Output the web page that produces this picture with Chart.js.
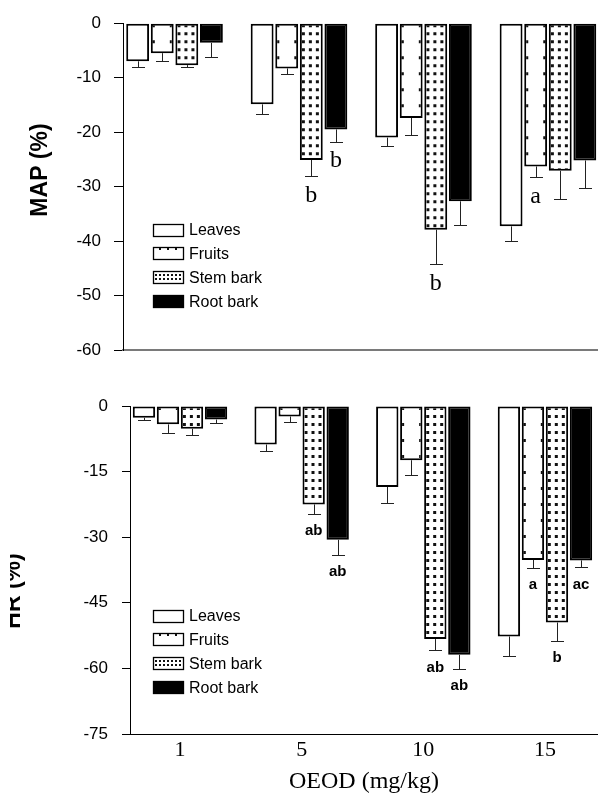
<!DOCTYPE html>
<html>
<head>
<meta charset="utf-8">
<script src="https://cdn.jsdelivr.net/npm/chart.js@4.4.1/dist/chart.umd.min.js"></script>
<style>
  body { margin: 0; background: #fff; }
  #wrap { position: relative; width: 598px; height: 809px; }
  canvas { position: absolute; left: 0; }
</style>
</head>
<body>
<div id="wrap">
  <canvas id="mapChart" width="598" height="375" style="top:0"></canvas>
  <canvas id="hrChart" width="598" height="434" style="top:375px"></canvas>
</div>
<script>
const doses = ['1', '5', '10', '15'];
const seriesNames = ['Leaves', 'Fruits', 'Stem bark', 'Root bark'];

// MAP (%) panel
const mapTicks = [0, -10, -20, -30, -40, -50, -60];
const mapLeaves = [-7.0, -14.9, -21.0, -37.3];
const mapFruits = [-5.5, -8.3, -17.4, -26.3];
const mapStemBark = [-7.7, -25.1, -37.9, -27.1];
const mapRootBark = [-3.6, -19.5, -32.7, -25.2];
const mapLeavesErr = [1.1, 1.7, 1.6, 2.6];
const mapFruitsErr = [1.4, 1.0, 3.2, 2.0];
const mapStemBarkErr = [0.4, 3.0, 6.4, 5.2];
const mapRootBarkErr = [2.6, 2.3, 4.4, 5.0];
const mapLetters = [['', '', '', ''], ['', '', '', 'a'], ['', 'b', 'b', ''], ['', 'b', '', '']];

// HR (%) panel
const hrTicks = [0, -15, -30, -45, -60, -75];
const hrLeaves = [-2.7, -8.8, -18.5, -52.7];
const hrFruits = [-4.2, -2.4, -12.4, -35.2];
const hrStemBark = [-5.2, -22.5, -53.3, -49.5];
const hrRootBark = [-3.1, -30.6, -56.9, -35.3];
const hrLeavesErr = [0.6, 1.4, 3.7, 4.5];
const hrFruitsErr = [2.0, 1.2, 3.3, 1.9];
const hrStemBarkErr = [1.5, 2.1, 2.6, 4.3];
const hrRootBarkErr = [0.8, 3.4, 3.2, 1.6];
const hrLetters = [['', '', '', ''], ['', '', '', 'a'], ['', 'ab', 'ab', 'b'], ['', 'ab', 'ab', 'ac']];

const SANS = '"Liberation Sans", Arial, sans-serif';
const SERIF = '"Liberation Serif", "Times New Roman", serif';
const CAT_PCT = 0.79;
const BAR_PCT = 0.93;
const kinds = ['open', 'sparse', 'dense', 'solid'];

Chart.defaults.font.family = SANS;
Chart.defaults.color = '#000';

function makeTile(w, h, dots, size) {
  const c = document.createElement('canvas');
  c.width = w; c.height = h;
  const g = c.getContext('2d');
  g.fillStyle = '#fff';
  g.fillRect(0, 0, w, h);
  g.fillStyle = '#111';
  dots.forEach(d => g.fillRect(d[0], d[1], size, size));
  return c;
}
const tiles = {
  sparse: makeTile(24, 16, [[1, 1], [19, 1]], 3),
  dense: makeTile(7, 8, [[2, 1]], 3)
};

// pattern anchored on each bar's left edge so dots line up like the print
function patternFor(kind) {
  return (c) => {
    if (c.type !== 'data') return '#fff';
    const xs = c.chart.scales.x, ys = c.chart.scales.y;
    const pitch = xs.getPixelForValue(1) - xs.getPixelForValue(0);
    const chunk = pitch * CAT_PCT / 4;
    const left = xs.getPixelForValue(c.dataIndex) - pitch * CAT_PCT / 2 +
      c.datasetIndex * chunk + chunk * (1 - BAR_PCT) / 2;
    const top = ys.getPixelForValue(0);
    if (!isFinite(left) || !isFinite(top)) return '#fff';
    const p = c.chart.ctx.createPattern(tiles[kind], 'repeat');
    p.setTransform(new DOMMatrix().translate(left, top));
    return p;
  };
}

function drawSample(g, kind, x, y, w, h) {
  g.save();
  g.fillStyle = kind === 'solid' ? '#000' : '#fff';
  g.fillRect(x, y, w, h);
  g.fillStyle = '#111';
  if (kind === 'sparse') {
    for (let dx = 6; dx < w - 3; dx += 8) g.fillRect(x + dx, y + 1, 2, 2);
  }
  if (kind === 'dense') {
    for (let dy = 3; dy < h - 2; dy += 4)
      for (let dx = 2; dx < w - 2; dx += 4) g.fillRect(x + dx, y + dy, 2, 2);
  }
  g.strokeStyle = '#000';
  g.lineWidth = 1.3;
  g.strokeRect(x + 0.5, y + 0.5, w - 1, h - 1);
  g.restore();
}

function boxLegend(x, y, gap) {
  return {
    id: 'boxLegend',
    afterDraw(chart) {
      const g = chart.ctx;
      g.save();
      g.font = '16px ' + SANS;
      g.textBaseline = 'middle';
      chart.data.datasets.forEach((ds, k) => {
        const cy = y + k * gap;
        drawSample(g, ds.kind, x, Math.round(cy - 6.5), 31, 13);
        g.fillStyle = '#000';
        g.fillText(ds.label, x + 36, cy + 1);
      });
      g.restore();
    }
  };
}

function sideTitle(text, cx, cy, clipLeft) {
  return {
    id: 'sideTitle',
    afterDraw(chart) {
      const g = chart.ctx;
      g.save();
      if (clipLeft) {
        g.beginPath();
        g.rect(clipLeft, 0, chart.width, chart.height);
        g.clip();
      }
      g.translate(cx, cy);
      g.rotate(-Math.PI / 2);
      g.font = 'bold 23px ' + SANS;
      g.fillStyle = '#000';
      g.textAlign = 'center';
      g.textBaseline = 'alphabetic';
      g.fillText(text, 0, 0);
      g.restore();
    }
  };
}

function errorBars(errors, letters, letterFont, letterGap) {
  return {
    id: 'errorBars',
    afterDatasetsDraw(chart) {
      const g = chart.ctx, ys = chart.scales.y;
      g.save();
      g.strokeStyle = '#222';
      g.lineWidth = 1;
      g.fillStyle = '#000';
      g.font = letterFont;
      g.textAlign = 'center';
      g.textBaseline = 'middle';
      chart.data.datasets.forEach((ds, k) => {
        chart.getDatasetMeta(k).data.forEach((bar, i) => {
          const end = ys.getPixelForValue(ds.data[i].y - errors[k][i]);
          const x = Math.round(bar.x) + 0.5, yEnd = Math.round(end) + 0.5;
          g.beginPath();
          g.moveTo(x, bar.y);
          g.lineTo(x, yEnd);
          g.moveTo(x - 6.5, yEnd);
          g.lineTo(x + 6.5, yEnd);
          g.stroke();
          if (letters[k][i]) g.fillText(letters[k][i], bar.x, end + letterGap);
        });
      });
      g.restore();
    }
  };
}

function barChart(id, o) {
  const datasets = o.series.map((vals, k) => ({
    label: seriesNames[k],
    kind: kinds[k],
    data: vals.map((v, i) => ({ x: i, y: v })),
    backgroundColor: kinds[k] === 'solid' ? '#000' : (kinds[k] === 'open' ? '#fff' : patternFor(kinds[k])),
    borderColor: '#000',
    borderWidth: 2,
    borderSkipped: false,
    categoryPercentage: CAT_PCT,
    barPercentage: BAR_PCT
  }));

  return new Chart(document.getElementById(id), {
    type: 'bar',
    data: { datasets },
    options: {
      responsive: false,
      animation: false,
      layout: { padding: { top: o.padTop, right: 0, bottom: 0, left: 0 } },
      plugins: { legend: { display: false }, tooltip: { enabled: false } },
      scales: {
        x: {
          type: 'linear',
          min: o.xMin,
          max: o.xMax,
          offset: false,
          afterBuildTicks: s => { s.ticks = doses.map((d, i) => ({ value: i })); },
          afterFit: s => { s.height = o.xHeight; },
          ticks: {
            display: o.showX,
            autoSkip: false,
            maxRotation: 0,
            padding: 3,
            font: { family: SERIF, size: 22, lineHeight: 1.2 },
            callback: v => doses[v]
          },
          grid: { display: false, drawTicks: false },
          border: { display: true, color: o.xLine, width: o.xLineWidth },
          title: {
            display: o.showX,
            text: 'OEOD (mg/kg)',
            font: { family: SERIF, size: 24, lineHeight: 1.2 },
            padding: { top: 0, bottom: 13 }
          }
        },
        y: {
          min: o.ticks[o.ticks.length - 1],
          max: o.ticks[0],
          afterBuildTicks: s => { s.ticks = o.ticks.map(v => ({ value: v })); },
          afterFit: s => { s.width = o.axisWidth; },
          ticks: {
            padding: o.tickPad,
            font: { size: 17 },
            callback: v => String(v)
          },
          grid: { display: true, drawOnChartArea: false, drawTicks: true, tickLength: o.tickLen, color: '#000', lineWidth: 1 },
          border: { display: true, color: '#000', width: 1 }
        }
      }
    },
    plugins: [
      errorBars(o.errors, o.letters, o.letterFont, o.letterGap),
      boxLegend(153, o.legendY, 23.8),
      sideTitle(o.title, o.titleX, o.titleY, o.titleClip)
    ]
  });
}

barChart('mapChart', {
  series: [mapLeaves, mapFruits, mapStemBark, mapRootBark],
  errors: [mapLeavesErr, mapFruitsErr, mapStemBarkErr, mapRootBarkErr],
  letters: mapLetters,
  letterFont: '24px ' + SERIF,
  letterGap: 19,
  ticks: mapTicks,
  padTop: 22,
  axisWidth: 123,
  tickLen: 9,
  tickPad: 13,
  xMin: -0.414,
  xMax: 3.402,
  xHeight: 25,
  showX: false,
  xLine: '#7a7a7a',
  xLineWidth: 2,
  legendY: 230,
  title: 'MAP (%)',
  titleX: 47,
  titleY: 170,
  titleClip: 0
});

barChart('hrChart', {
  series: [hrLeaves, hrFruits, hrStemBark, hrRootBark],
  errors: [hrLeavesErr, hrFruitsErr, hrStemBarkErr, hrRootBarkErr],
  letters: hrLetters,
  letterFont: 'bold 15px ' + SANS,
  letterGap: 17,
  ticks: hrTicks,
  padTop: 31,
  axisWidth: 130,
  tickLen: 8,
  tickPad: 14,
  xMin: -0.411,
  xMax: 3.436,
  xHeight: 75,
  showX: true,
  xLine: '#000',
  xLineWidth: 1,
  legendY: 241,
  title: 'HR (%)',
  titleX: 20,
  titleY: 216,
  titleClip: 10
});
</script>
</body>
</html>
